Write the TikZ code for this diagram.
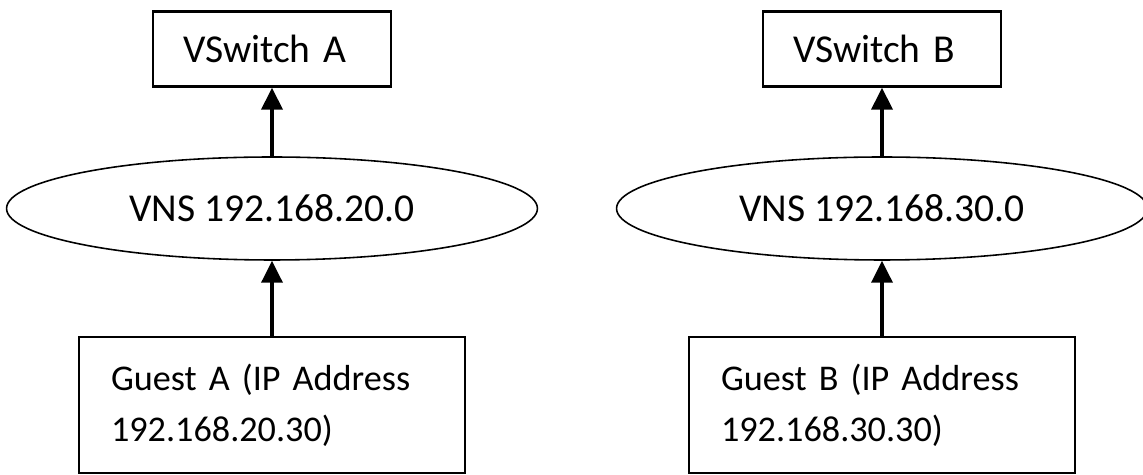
\documentclass[tikz,border=0pt]{standalone}
\usepackage{fontspec}
\setmainfont{Carlito}
\usetikzlibrary{arrows.meta,shapes.geometric}

\begin{document}
\begin{tikzpicture}[
        x=0.02cm,
        y=-0.02cm,
        swbox/.style={draw, rectangle, line width=1.4pt, minimum height=1.5cm, inner xsep=0.6cm, text width=3.56cm, align=left, font=\fontsize{22.5}{27}\selectfont},
        vns/.style={draw, ellipse, line width=0.9pt, inner sep=0pt, minimum width=10.62cm, minimum height=2.06cm, font=\fontsize{22.5}{27}\selectfont},
        guest/.style={draw, rectangle, line width=1.4pt, minimum height=2.72cm, inner xsep=0.64cm, text width=6.44cm, align=left, font=\fontsize{20.6}{28.9}\selectfont},
        link/.style={-{Triangle[length=12.5pt,width=12pt]}, line width=1.9pt}
    ]
        \useasboundingbox (0,0) rectangle (1143,475);

        % Netz A: Gast, VNS und VSwitch übereinander.
        \node[swbox] (swA) at (272,49) {VSwitch A};
        \node[vns] (vnsA) at (272,208.5) {VNS 192.168.20.0};
        \node[guest] (guestA) at (272,405) {Guest A (IP Address\\192.168.20.30)};

        % Netz B.
        \node[swbox] (swB) at (882,49) {VSwitch B};
        \node[vns] (vnsB) at (882,208.5) {VNS 192.168.30.0};
        \node[guest] (guestB) at (882,405) {Guest B (IP Address\\192.168.30.30)};

        % Verbindungen nach oben.
        \draw[link] (guestA) -- (vnsA);
        \draw[link] (vnsA) -- (swA);
        \draw[link] (guestB) -- (vnsB);
        \draw[link] (vnsB) -- (swB);
    \end{tikzpicture}
\end{document}
